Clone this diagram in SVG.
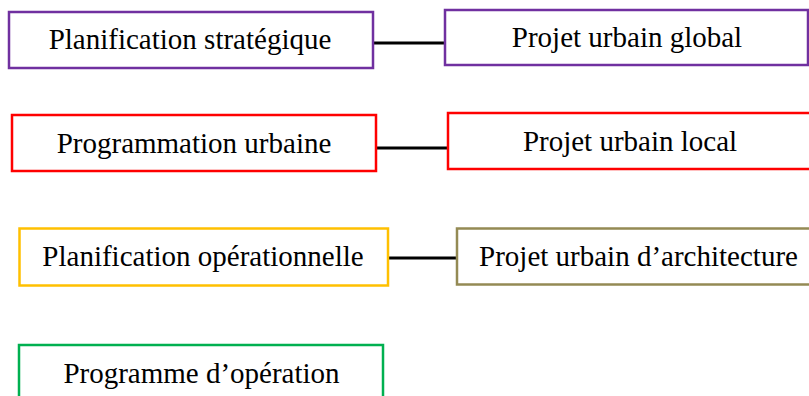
<svg xmlns="http://www.w3.org/2000/svg" width="809" height="396" viewBox="0 0 809 396">
  <style>
    .box { fill: #ffffff; stroke-width: 2.5; }
    .label { font-family: "Liberation Serif", "Times New Roman", serif; font-size: 29px; fill: #000000; text-anchor: middle; }
    .link { stroke: #000000; stroke-width: 2.8; fill: none; }
    .purple { stroke: #7030A0; }
    .red { stroke: #FF0000; }
    .gold { stroke: #FFC000; }
    .olive { stroke: #948A54; }
    .green { stroke: #00B050; }
  </style>
  <rect width="809" height="396" fill="#ffffff"/>

  <g id="connectors">
    <line class="link" x1="373" y1="43" x2="445" y2="43"/>
    <line class="link" x1="376" y1="148" x2="448" y2="148"/>
    <line class="link" x1="388" y1="258" x2="457" y2="258"/>
  </g>

  <g id="planification-strategique">
    <rect class="box purple" x="9" y="12" width="364" height="56"/>
    <text class="label" x="190" y="49">Planification stratégique</text>
  </g>
  <g id="projet-urbain-global">
    <rect class="box purple" x="445" y="10" width="363" height="55"/>
    <text class="label" x="627" y="47">Projet urbain global</text>
  </g>

  <g id="programmation-urbaine">
    <rect class="box red" x="12" y="115" width="364" height="56"/>
    <text class="label" x="194" y="153">Programmation urbaine</text>
  </g>
  <g id="projet-urbain-local">
    <rect class="box red" x="448" y="113" width="366" height="56"/>
    <text class="label" x="630" y="151">Projet urbain local</text>
  </g>

  <g id="planification-operationnelle">
    <rect class="box gold" x="19.5" y="228.5" width="368.5" height="57"/>
    <text class="label" x="203" y="266">Planification opérationnelle</text>
  </g>
  <g id="projet-urbain-architecture">
    <rect class="box olive" x="457" y="228.5" width="366" height="56"/>
    <text class="label" x="638.5" y="266">Projet urbain d’architecture</text>
  </g>

  <g id="programme-operation">
    <rect class="box green" x="19" y="345" width="364" height="60"/>
    <text class="label" x="201.5" y="383">Programme d’opération</text>
  </g>
</svg>
